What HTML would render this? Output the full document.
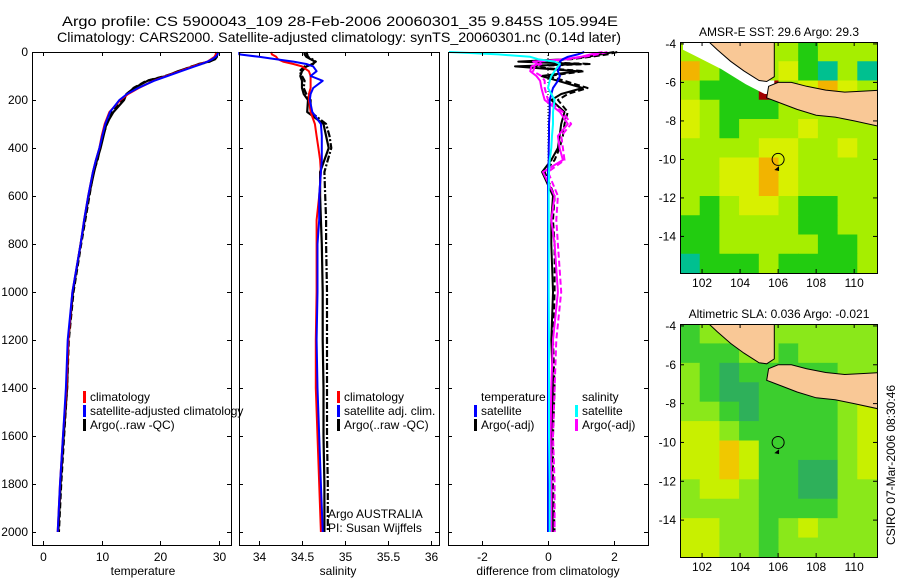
<!DOCTYPE html>
<html><head><meta charset="utf-8"><style>
html,body{margin:0;padding:0;background:#fff;}
svg{display:block;font-family:"Liberation Sans",Arial,sans-serif;}
</style></head><body>
<svg id="fig" width="900" height="580" viewBox="0 0 900 580" xmlns="http://www.w3.org/2000/svg">
<text x="340" y="26" font-size="14" text-anchor="middle" textLength="556" lengthAdjust="spacingAndGlyphs">Argo profile: CS 5900043_109 28-Feb-2006 20060301_35 9.845S 105.994E</text>
<text x="339" y="42" font-size="14" text-anchor="middle" textLength="564" lengthAdjust="spacingAndGlyphs">Climatology: CARS2000. Satellite-adjusted climatology: synTS_20060301.nc (0.14d later)</text>
<g id="g"></g>
</svg>
<script>
// ---- data ----
const depths=[0,10,20,30,40,50,60,80,100,120,150,175,200,250,300,350,400,450,500,600,700,800,1000,1200,1400,1600,1800,2000];
const tempClim=[29.5,29.4,29.2,28.6,28.0,26.8,25.5,23.3,21.0,18.8,16.3,14.5,13.2,11.3,10.5,10.0,9.6,9.0,8.5,7.7,7.0,6.4,5.0,4.3,4.0,3.4,2.9,2.5];
const tempSat=[29.8,29.7,29.4,28.8,28.0,27.0,25.8,23.5,21.2,18.9,16.2,14.3,13.0,11.4,10.6,10.1,9.6,9.0,8.5,7.7,7.0,6.4,5.0,4.2,3.9,3.4,2.9,2.5];
const tempArgo=[29.6,29.6,29.6,29.3,28.3,26.5,25.5,23.0,21.0,17.8,15.5,14.2,13.8,12.0,10.8,10.3,9.8,9.2,8.7,7.8,7.1,6.4,5.1,4.3,4.1,3.5,3.0,2.6];
const tempArgoQC=[29.7,29.7,29.5,29.1,28.4,26.8,25.3,23.2,20.8,17.6,15.4,14.3,13.6,11.8,10.9,10.2,9.7,9.3,8.6,7.9,7.2,6.5,5.2,4.4,4.1,3.6,3.1,2.7];
const salClim=[34.14,34.15,34.2,34.22,34.28,34.4,34.5,34.58,34.6,34.6,34.6,34.58,34.58,34.6,34.65,34.67,34.69,34.71,34.72,34.7,34.67,34.67,34.67,34.66,34.66,34.68,34.7,34.72];
const salSat=[33.77,33.77,34.0,34.2,34.4,34.55,34.63,34.67,34.6,34.74,34.63,34.6,34.59,34.62,34.72,34.73,34.73,34.73,34.72,34.7,34.7,34.68,34.68,34.67,34.68,34.7,34.72,34.74];
const salArgo=[34.53,34.53,34.55,34.6,34.65,34.63,34.55,34.5,34.48,34.5,34.5,34.52,34.57,34.56,34.75,34.78,34.81,34.76,34.71,34.71,34.72,34.73,34.74,34.74,34.75,34.75,34.76,34.76];
const salArgoQC=[34.55,34.56,34.57,34.62,34.66,34.62,34.53,34.47,34.5,34.53,34.52,34.55,34.6,34.6,34.78,34.82,34.84,34.8,34.76,34.77,34.78,34.78,34.79,34.79,34.79,34.79,34.8,34.8];
const dTempSat=[1.1,0.9,0.6,0.45,0.36,0.35,0.36,0.3,0.36,0.3,0.15,0.1,0.05,0.05,0.03,0.03,0.02,0.02,0,0,0,0,0,0,0,0,0,0];
const dTempArgo=[2.0,1.6,1.2,0.5,-0.9,1.0,-1.0,0.9,-0.2,0.3,1.05,0.4,0.1,0.5,0.4,0.35,0.3,0.1,-0.18,0.15,0.1,0.1,0.15,0.1,0.15,0.1,0.1,0.15];
const dTempArgoQC=[2.1,1.8,1.3,0.7,-0.6,1.3,-0.7,1.1,0,0.5,1.2,0.6,0.3,0.6,0.5,0.45,0.35,0.2,-0.1,0.2,0.15,0.2,0.2,0.15,0.2,0.15,0.15,0.2];
const dSalSat=[-3.0,-1.5,-0.54,-0.3,0.2,0.36,0.3,0.2,0.1,0.05,0.0,0.1,0.2,0.15,0.15,0.12,0.1,0.05,0.03,0.02,0.02,0.02,0.02,0.03,0.03,0.03,0.05,0.05];
const dSalArgo=[1.65,1.3,1.0,0.5,-0.45,-0.3,-0.5,-0.54,-0.35,-0.24,-0.2,-0.15,-0.1,0.36,0.6,0.3,0.35,0.45,-0.15,0.2,0.1,0.2,0.3,0.15,0.1,0.08,0.1,0.1];
const dSalArgoQC=[1.8,1.5,1.1,0.6,-0.3,-0.2,-0.4,-0.45,-0.2,-0.1,-0.1,-0.05,0.0,0.45,0.7,0.4,0.45,0.5,0.0,0.3,0.25,0.3,0.4,0.25,0.2,0.15,0.2,0.2];
const depthTicks=[0,200,400,600,800,1000,1200,1400,1600,1800,2000];
const tempTicks=[0,10,20,30];
const salTicks=[34,34.5,35,35.5,36];
const salTickLabels=["34","34.5","35","35.5","36"];
const diffTicks=[-2,0,2];
const latTicks=[-4,-6,-8,-10,-12,-14];
const lonTicks=[102,104,106,108,110];
const sstGrid=[
[2,2,2,2,2,2,1,2,2,2],
[4,2,1,2,2,3,1,0,2,0],
[2,1,1,1,5,2,3,4,3,2],
[3,2,1,1,1,2,2,2,3,2],
[3,2,1,2,2,2,3,2,2,2],
[2,2,2,2,3,3,2,2,3,2],
[2,2,3,3,4,3,2,2,2,2],
[2,2,3,3,4,3,2,2,2,2],
[2,1,2,3,3,2,1,1,2,2],
[1,1,2,2,2,2,1,1,2,2],
[1,1,2,2,2,2,2,1,1,2],
[0,1,1,1,2,1,1,1,1,2]];
const slaGrid=[
[1,2,2,2,2,2,2,2,2,2],
[1,1,1,2,2,1,2,2,2,2],
[2,1,0,1,1,1,1,1,2,2],
[2,1,0,0,1,1,1,1,2,2],
[2,2,1,0,1,1,1,1,2,3],
[3,3,2,1,1,1,1,1,2,3],
[3,3,4,3,1,1,1,1,2,3],
[3,3,4,3,1,1,0,0,2,3],
[2,3,3,2,1,1,0,0,2,2],
[2,2,2,2,1,1,1,1,2,2],
[3,3,2,2,1,2,3,2,2,2],
[3,3,2,2,1,2,2,2,2,2]];
const sstColors=["#00c090","#22cc10","#a6ee00","#d8f000","#f2b400","#a00000"];
const slaColors=["#2eb05a","#3cce2e","#8ae81a","#c8f000","#f0c800"];
const sumatra=[[102.26,-3.8],[105.8,-3.8],[105.8,-5.7],[105.4,-5.95],[105.0,-5.9],[104.2,-5.4],[103.5,-4.9],[102.8,-4.3]];
const java=[[105.5,-6.2],[106.0,-6.0],[106.7,-6.0],[107.5,-6.2],[108.5,-6.4],[109.5,-6.5],[110.5,-6.45],[111.4,-6.4],[111.4,-8.3],[110,-8.0],[109,-7.8],[108,-7.7],[107,-7.4],[106.2,-7.1],[105.4,-6.8]];
const sstGap=[[101.0,-3.8],[102.26,-3.8],[102.8,-4.3],[103.5,-4.9],[104.2,-5.4],[105.0,-5.9],[105.8,-5.9],[105.8,-6.6],[105.3,-6.6],[104.3,-6.1],[103,-5.3],[101.6,-4.6],[101.0,-4.3]];
const floatPos=[106,-10];

// ---- helpers ----
const NS="http://www.w3.org/2000/svg";
const G=document.getElementById('g');
function el(tag,attrs,parent){const e=document.createElementNS(NS,tag);for(const k in attrs)e.setAttribute(k,attrs[k]);(parent||G).appendChild(e);return e;}
const yTop=52, pxPerM=0.24, yBot=545;
const yD=d=>yTop+d*pxPerM;

function panel(name,x0,x1,vmin,vmax){
  const sx=v=>x0+(v-vmin)/(vmax-vmin)*(x1-x0);
  const grp=el('g',{});
  
  
  return {sx,grp,x0,x1};
}
function frame(p){
  const r=el('rect',{x:p.x0+0.5,y:yTop+0.5,width:p.x1-p.x0,height:yBot-yTop,fill:'none',stroke:'#000','stroke-width':1},p.grp);
  
  
}
function series(p,vals,color,w,dash,name){
  let d='';
  vals.forEach((v,i)=>{let x=Math.max(p.x0,Math.min(p.x1,p.sx(v)));d+=(i?'L':'M')+x.toFixed(1)+','+yD(depths[i]).toFixed(1);});
  const path=el('path',{d,fill:'none',stroke:color,'stroke-width':w,'stroke-dasharray':dash||'none','stroke-linejoin':'round'},p.grp);
  
  
}
function xticks(p,ticks,labels){
  ticks.forEach((t,i)=>{
    const x=Math.round(p.sx(t))+0.5;
    el('line',{x1:x,x2:x,y1:yTop,y2:yTop+4,stroke:'#000'},p.grp);
    el('line',{x1:x,x2:x,y1:yBot,y2:yBot-4,stroke:'#000'},p.grp);
    const tx=el('text',{x:x,y:yBot+16,'font-size':12,'text-anchor':'middle'},p.grp);
    tx.textContent=labels?labels[i]:String(t);
    
    
  });
  depthTicks.forEach(t=>{
    const y=Math.round(yD(t))+0.5;
    el('line',{x1:p.x0,x2:p.x0+4,y1:y,y2:y,stroke:'#000'},p.grp);
    el('line',{x1:p.x1-4,x2:p.x1,y1:y,y2:y,stroke:'#000'},p.grp);
  });
}
function label(p,txt,name,x,y){
  const t=el('text',{x:x,y:y,'font-size':12,'text-anchor':'middle'},p.grp);
  t.textContent=txt;
  
  
}
function legend(parent,x,y,color,txt,name){
  const g=el('g',{},parent);
  
  
  if(color) el('rect',{x:x,y:y-10,width:3,height:12,fill:color},g);
  const t=el('text',{x:x+7,y:y,'font-size':12},g);
  t.textContent=txt;
}

// ---- temperature panel ----
const pT=panel('temperature-panel',32,231,-1.87,32.0);
series(pT,tempArgoQC,'#000',2.2,'6,3','argo-qc-temperature-line');
series(pT,tempArgo,'#000',2.2,null,'argo-raw-temperature-line');
series(pT,tempClim,'#f00',2,null,'climatology-temperature-line');
series(pT,tempSat,'#00f',2,null,'satellite-adjusted-temperature-line');
frame(pT);xticks(pT,tempTicks);
label(pT,'temperature','x-axis-title-temperature',143,575);
depthTicks.forEach(t=>{const tx=el('text',{x:28,y:yD(t)+4,'font-size':12,'text-anchor':'end'},pT.grp);tx.textContent=String(t);});
legend(pT.grp,83,401,'#f00','climatology','legend-climatology');
legend(pT.grp,83,415,'#00f','satellite-adjusted climatology','legend-satellite-adjusted');
legend(pT.grp,83,429,'#000','Argo(..raw -QC)','legend-argo');

// ---- salinity panel ----
const pS=panel('salinity-panel',239,439,33.767,36.093);
series(pS,salArgoQC,'#000',2.2,'7,2,2,2','argo-qc-salinity-line');
series(pS,salArgo,'#000',2.2,null,'argo-raw-salinity-line');
series(pS,salClim,'#f00',2,null,'climatology-salinity-line');
series(pS,salSat,'#00f',2,null,'satellite-adjusted-salinity-line');
frame(pS);xticks(pS,salTicks,salTickLabels);
label(pS,'salinity','x-axis-title-salinity',338,575);
legend(pS.grp,337,401,'#f00','climatology','legend-climatology-sal');
legend(pS.grp,337,415,'#00f','satellite adj. clim.','legend-satellite-sal');
legend(pS.grp,337,429,'#000','Argo(..raw -QC)','legend-argo-sal');
legend(pS.grp,321,518,null,'Argo AUSTRALIA','argo-agency-label');
legend(pS.grp,321,532,null,'PI: Susan Wijffels','pi-label');

// ---- difference panel ----
const pD=panel('difference-panel',448,648,-3.03,3.03);
el('line',{x1:pD.sx(0),x2:pD.sx(0),y1:yTop,y2:yD(2000),stroke:'#000','stroke-dasharray':'1,2'},pD.grp);
series(pD,dTempArgoQC,'#000',2,'6,3','argo-qc-temperature-diff-line');
series(pD,dTempArgo,'#000',2,null,'argo-temperature-diff-line');
series(pD,dSalArgoQC,'#f0f',2,'6,3','argo-qc-salinity-diff-line');
series(pD,dSalArgo,'#f0f',2,null,'argo-salinity-diff-line');
series(pD,dTempSat,'#00f',2,null,'satellite-temperature-diff-line');
series(pD,dSalSat,'#0ff',2,null,'satellite-salinity-diff-line');
frame(pD);xticks(pD,diffTicks);
label(pD,'difference from climatology','x-axis-title-difference',548,575);
legend(pD.grp,474,401,null,'temperature','legend-temperature-header');
legend(pD.grp,474,415,'#00f','satellite','legend-temp-satellite');
legend(pD.grp,474,429,'#000','Argo(-adj)','legend-temp-argo');
legend(pD.grp,575,401,null,'salinity','legend-salinity-header');
legend(pD.grp,575,415,'#0ff','satellite','legend-sal-satellite');
legend(pD.grp,575,429,'#f0f','Argo(-adj)','legend-sal-argo');

// ---- maps ----
function map(name,top,bot,grid,colors,title,withGap){
  const x0=680,x1=877;
  const lonMin=100.84,lonMax=111.2;
  const pxLat=(bot-top)/12.0;
  const latMax=-3.9;
  const sx=lon=>x0+(lon-lonMin)/(lonMax-lonMin)*(x1-x0);
  const sy=lat=>top+(latMax-lat)*pxLat;
  const g=el('g',{});
  
  
  const cid='clip'+name;
  const cp=el('clipPath',{id:cid},g);el('rect',{x:x0,y:top,width:x1-x0,height:bot-top},cp);
  const inner=el('g',{'clip-path':'url(#'+cid+')'},g);
  const dlon=(lonMax-lonMin)/10, dlat=1;
  grid.forEach((row,r)=>row.forEach((v,c)=>{
    const cx=sx(lonMin+c*dlon), cy=sy(latMax-r*dlat);
    const cell=el('rect',{x:cx,y:cy,width:sx(lonMin+(c+1)*dlon)-cx+0.5,height:pxLat+0.5,fill:colors[v]},inner);
    
    
  }));
  const poly=(pts,fill,nm)=>{const p=el('polygon',{points:pts.map(q=>sx(q[0]).toFixed(1)+','+sy(q[1]).toFixed(1)).join(' '),fill:fill,stroke:fill=='#fff'?'none':'#000','stroke-width':1},inner);};
  if(withGap) poly(sstGap,'#fff','no-data-area');
  poly(sumatra,'#f9c896','sumatra-land');
  poly(java,'#f9c896','java-land');
  const c=el('circle',{cx:sx(floatPos[0]),cy:sy(floatPos[1]),r:6,fill:'none',stroke:'#000'},inner);
  
  
  el('polygon',{points:`${sx(105.8)},${sy(-10.55)} ${sx(106.05)},${sy(-10.35)} ${sx(106.05)},${sy(-10.6)}`,fill:'#000'},inner);
  el('rect',{x:x0+0.5,y:top+0.5,width:x1-x0,height:bot-top,fill:'none',stroke:'#000'},g);
  latTicks.forEach(t=>{const y=sy(t);
    el('line',{x1:x0,x2:x0+4,y1:y,y2:y,stroke:'#000'},g);el('line',{x1:x1-4,x2:x1,y1:y,y2:y,stroke:'#000'},g);
    const tx=el('text',{x:676,y:y+4,'font-size':12,'text-anchor':'end'},g);tx.textContent=String(t);
    });
  lonTicks.forEach(t=>{const x=sx(t);
    el('line',{x1:x,x2:x,y1:top,y2:top+4,stroke:'#000'},g);el('line',{x1:x,x2:x,y1:bot-4,y2:bot,stroke:'#000'},g);
    const tx=el('text',{x:x,y:bot+14,'font-size':12,'text-anchor':'middle'},g);tx.textContent=String(t);
    });
  const tt=el('text',{x:779,y:top-6,'font-size':12,'text-anchor':'middle'},g);tt.textContent=title;
  
}
map('sst-map',42,273,sstGrid,sstColors,'AMSR-E SST: 29.6 Argo: 29.3',true);
map('sla-map',324,557,slaGrid,slaColors,'Altimetric SLA: 0.036 Argo: -0.021',false);
const cs=el('text',{x:0,y:0,'font-size':12,'text-anchor':'middle',transform:'translate(895,465) rotate(-90)'});
cs.textContent='CSIRO 07-Mar-2006 08:30:46';


</script>
</body></html>
